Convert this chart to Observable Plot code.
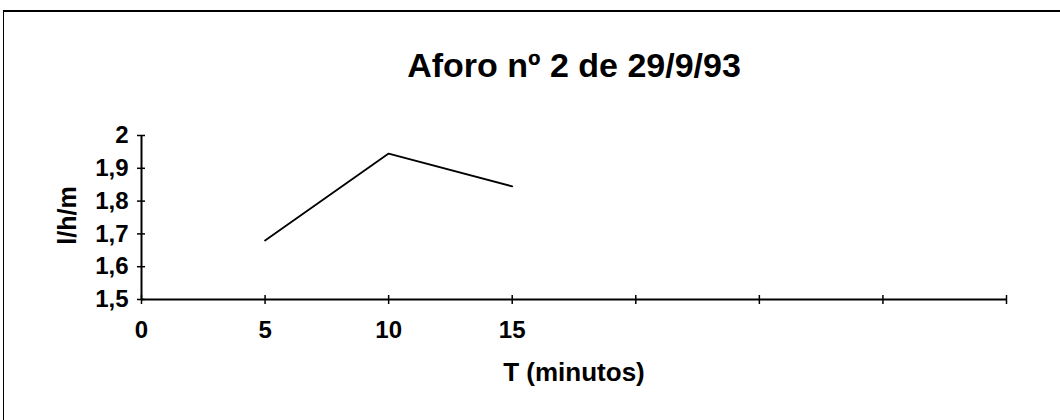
<!DOCTYPE html>
<html><head><meta charset="utf-8">
<script src="https://cdn.jsdelivr.net/npm/d3@7"></script>
<script src="https://cdn.jsdelivr.net/npm/@observablehq/plot@0.6"></script>
<style>
body{margin:0;background:#fff;}
#wrap{position:relative;width:1060px;height:420px;overflow:hidden}
#border{position:absolute;left:3px;top:10px;right:-10px;bottom:-10px;border-top:2px solid #000;border-left:1.5px solid #000;pointer-events:none}
</style></head><body><div id="wrap"><div id="border"></div></div>
<script>
const title = "Aforo nº 2 de 29/9/93";
const xTitle = "T (minutos)";
const yTitle = "l/h/m";
const tiempo = [5, 10, 15];
const caudal = [1.68, 1.945, 1.845];
const xTicks = [0, 5, 10, 15, 20, 25, 30, 35];
const xLabels = [0, 5, 10, 15];
const yTicks = [1.5, 1.6, 1.7, 1.8, 1.9, 2];

const fmt = d => String(d).replace(".", ",");
const data = tiempo.map((t, i) => ({t, q: caudal[i]}));
const font = "'Liberation Sans', Arial, sans-serif";

const chart = Plot.plot({
  width: 1060, height: 420,
  marginLeft: 141, marginRight: 54, marginTop: 135, marginBottom: 121,
  style: {fontFamily: font, fontWeight: "bold", color: "#000", background: "transparent", overflow: "visible"},
  x: {domain: [0, 35]},
  y: {domain: [1.5, 2]},
  marks: [
    Plot.axisY({ticks: yTicks, tickSize: 8, dx: 4, tickPadding: 9, tickFormat: fmt, fontSize: 24, label: null, strokeWidth: 1.5}),
    Plot.axisX({ticks: xTicks, tickSize: 9, dy: -4, tickFormat: () => "", label: null, strokeWidth: 1.5}),
    Plot.axisX({ticks: xLabels, tickSize: 0, tickPadding: 21, tickFormat: fmt, fontSize: 24, label: null}),
    Plot.ruleX([0], {strokeWidth: 2}),
    Plot.ruleY([1.5], {strokeWidth: 2}),
    Plot.line(data, {x: "t", y: "q", strokeWidth: 1.8, stroke: "#000"}),
    Plot.text([title], {frameAnchor: "top", lineAnchor: "bottom", dy: -59, fontSize: 34, fontWeight: "bold"}),
    Plot.text([xTitle], {frameAnchor: "bottom", lineAnchor: "bottom", dy: 81, fontSize: 26, fontWeight: "bold"}),
    Plot.text([yTitle], {frameAnchor: "left", textAnchor: "middle", rotate: -90, dx: -74, dy: -2, fontSize: 25, fontWeight: "bold", letterSpacing: 3})
  ]
});
document.getElementById("wrap").prepend(chart);
</script>
</body></html>
